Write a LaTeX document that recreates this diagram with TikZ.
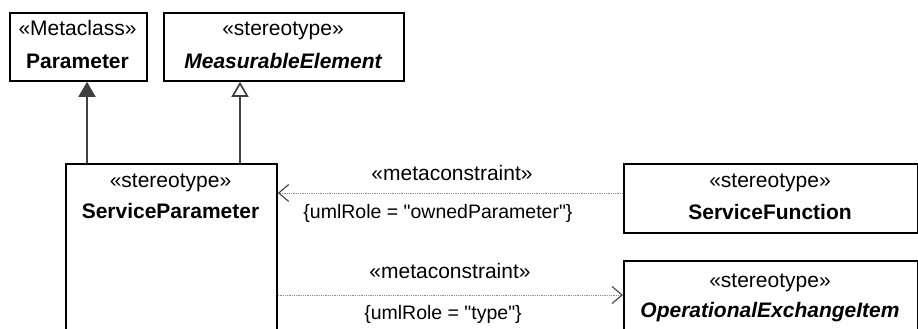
\documentclass[tikz,border=0pt]{standalone}
\usepackage{fontspec}
\setmainfont[Ligatures=TeXOff]{Liberation Sans}
\usetikzlibrary{arrows.meta}
\begin{document}
\begin{tikzpicture}[x=1pt,y=-1pt,
  box/.style={draw=black,line width=1.8pt,inner sep=0pt,anchor=north west},
  txt/.style={font=\fontsize{21}{25}\selectfont,inner sep=0pt,anchor=base},
  lbl/.style={font=\fontsize{19.5}{23}\selectfont,inner sep=0pt,anchor=base},
  gen/.style={draw=black!75,line width=1.7pt},
  dep/.style={draw=black!45,line width=1pt,dash pattern=on 1pt off 0.8pt,
    -{Straight Barb[length=10pt,width=17pt,line width=1.2pt,color=black!70]}}]
\useasboundingbox (0,0) rectangle (918,329);
% boxes
\node[box,minimum width=137pt,minimum height=68pt] (par) at (9,12) {};
\node[box,minimum width=240pt,minimum height=68pt] (me) at (163,12) {};
\node[box,minimum width=211pt,minimum height=175pt] (sp) at (65,163) {};
\node[box,minimum width=293.5pt,minimum height=69pt] (sf) at (623,163) {};
\node[box,minimum width=293.5pt,minimum height=80pt] (oei) at (623,260) {};
% texts
\node[txt] (parS) at (77.5,36) {«Metaclass»};
\node[txt] (parN) at (77.5,68) {\bfseries Parameter};
\node[txt] (meS) at (283,36) {«stereotype»};
\node[txt] (meN) at (283,68) {\bfseries\itshape MeasurableElement};
\node[txt] (spS) at (170.5,187) {«stereotype»};
\node[txt] (spN) at (170.5,218) {\bfseries ServiceParameter};
\node[txt] (sfS) at (770,187) {«stereotype»};
\node[txt] (sfN) at (770,219) {\bfseries ServiceFunction};
\node[txt] (oeiS) at (770,287) {«stereotype»};
\node[txt] (oeiN) at (770,317) {\bfseries\itshape OperationalExchangeItem};
% labels
\node[txt] (l1) at (452,180) {«metaconstraint»};
\node[lbl] (l2) at (438,218) {\{umlRole = "ownedParameter"\}};
\node[txt] (l3) at (450,278) {«metaconstraint»};
\node[lbl] (l4) at (443,319) {\{umlRole = "type"\}};
% generalizations
\draw[gen,-{Triangle[length=15pt,width=17pt,fill=black!75]}] (sp.north west -| 87,0) -- (par.south -| 87,0);
\draw[gen,-{Triangle[open,length=15pt,width=17pt,fill=white]}] (sp.north west -| 240,0) -- (me.south -| 240,0);
% dependencies
\draw[dep] (sf.west |- 0,193) -- (sp.east |- 0,193);
\draw[dep] (sp.east |- 0,295) -- (oei.west |- 0,295);
\end{tikzpicture}
\end{document}
